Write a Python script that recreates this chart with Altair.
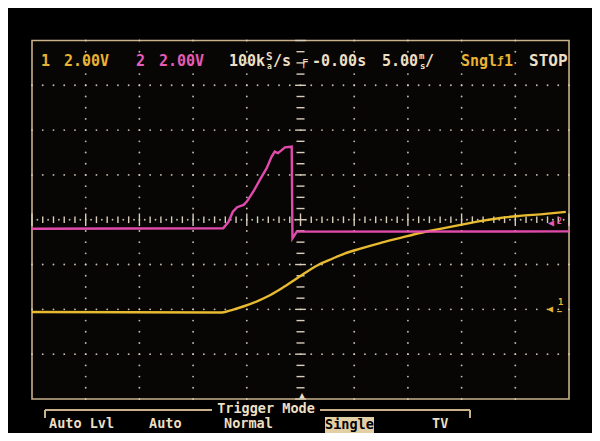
import altair as alt
import pandas as pd
import numpy as np

# ---------------- data ----------------
# Channel 1 (yellow): time in ms, volts (2 V/div, ground at -2 div)
t_ch1 = [-25.0, -7.3, -6.4, -5.2, -4.0, -2.8, -1.7, -0.5, 0.4, 1.6, 3.0, 4.1, 5.5,
         7.4, 9.3, 11.1, 13.0, 14.9, 16.7, 18.6, 20.4, 22.8, 24.7]
v_ch1 = [-0.12, -0.14, -0.03, 0.15, 0.37, 0.64, 0.95, 1.33, 1.62, 1.97, 2.27, 2.49, 2.70,
         2.96, 3.19, 3.41, 3.59, 3.77, 3.94, 4.08, 4.17, 4.26, 4.35]
# Channel 2 (pink): time in ms, volts (2 V/div, ground at centre)
t_ch2 = [-25.0, -7.2, -6.7, -6.3, -5.9, -5.3, -5.0, -4.4, -3.8, -3.15, -2.7, -2.4, -2.1,
         -1.75, -1.45, -0.82, -0.75, -0.35, 25.0]
v_ch2 = [-0.40, -0.38, -0.09, 0.36, 0.56, 0.66, 0.81, 1.25, 1.77, 2.30, 2.81, 3.04, 2.97,
         3.11, 3.23, 3.26, -0.83, -0.53, -0.52]

ch1_label = ["1", "2.00V"]
ch2_label = ["2", "2.00V"]
menu_labels = ["Auto Lvl", "Auto", "Normal", "Single", "TV"]

MS_PER_DIV = 5.0
V_PER_DIV = 2.0
CH1_OFFSET = -2.0
CH2_OFFSET = 0.0

# ---------------- styling ----------------
YEL_T = "#f3c433"
PINK_T = "#ec4fb4"
YEL_TXT = "#e9b232"
PINK_TXT = "#e75ab6"
BEIGE = "#ecdfc3"
BORDER = "#c9b189"
DOT = "#d8cebb"
FONT = "DejaVu Sans Mono"

XD = [-5.447, 5.428]
YD = [-4.759, 4.725]
W, H = 584, 425

def X(f="x"):
    return alt.X(f + ":Q", scale=alt.Scale(domain=XD, nice=False, zero=False), axis=None)

def Y(f="y"):
    return alt.Y(f + ":Q", scale=alt.Scale(domain=YD, nice=False, zero=False), axis=None)

def X2(f="x2"):
    return alt.X2(f)

def Y2(f="y2"):
    return alt.Y2(f)

# traces
ch1 = pd.DataFrame({"x": np.array(t_ch1) / MS_PER_DIV,
                    "y": np.array(v_ch1) / V_PER_DIV + CH1_OFFSET})
ch2 = pd.DataFrame({"x": np.array(t_ch2) / MS_PER_DIV,
                    "y": np.array(v_ch2) / V_PER_DIV + CH2_OFFSET})

# graticule
dots = []
for r in [-3, -2, -1, 1, 2, 3]:
    for k in range(-25, 26):
        dots.append((k * 0.2, r))
for c in [-4, -3, -2, -1, 1, 2, 3, 4]:
    for k in range(-16, 17):
        dots.append((c, k * 0.25))
for k in range(-50, 51):
    if k % 2 != 0:
        dots.append((k * 0.1, 0))
dots_df = pd.DataFrame(dots, columns=["x", "y"])

ticks = []
for k in range(-25, 26):
    h = 0.14 if k % 5 == 0 else 0.075
    ticks.append((k * 0.2, k * 0.2, -h, h))
for k in range(-16, 17):
    w = 0.1 if k % 4 == 0 else 0.075
    ticks.append((-w, w, k * 0.25, k * 0.25))
ticks_df = pd.DataFrame(ticks, columns=["x", "x2", "y", "y2"])

frame_df = pd.DataFrame({"x": [-5], "x2": [5], "y": [-4], "y2": [4]})
one = pd.DataFrame({"a": [0]})

frame = alt.Chart(frame_df).mark_rect(fill="#070605", stroke=BORDER, strokeWidth=1.6).encode(
    x=X(), x2=X2(), y=Y(), y2=Y2())
dot_layer = alt.Chart(dots_df).mark_circle(size=3.5, color=DOT, opacity=0.9).encode(x=X(), y=Y())
tick_layer = alt.Chart(ticks_df).mark_rule(color=DOT, strokeWidth=1.4).encode(
    x=X(), x2=X2(), y=Y(), y2=Y2())

line1 = alt.Chart(ch1).mark_line(color=YEL_T, strokeWidth=2.4, opacity=0.95,
                                 interpolate="monotone").encode(x=X(), y=Y(), order="x:Q")
line2 = alt.Chart(ch2).mark_line(color=PINK_T, strokeWidth=2.4, opacity=0.95).encode(x=X(), y=Y())

def label(text, x, y, color, size=14.5, align="left", weight="bold", baseline="middle"):
    return alt.Chart(one).mark_text(text=text, font=FONT, fontSize=size, fontWeight=weight,
                                     color=color, align=align, baseline=baseline).encode(
        x=alt.value(x - 8), y=alt.value(y - 8))

def rule(x1, y1, x2, y2, color=BORDER, w=2):
    return alt.Chart(one).mark_rule(color=color, strokeWidth=w).encode(
        x=alt.value(x1 - 8), x2=alt.value(x2 - 8), y=alt.value(y1 - 8), y2=alt.value(y2 - 8))

texts = [
    label(ch1_label[0], 41, 61, YEL_TXT, 15),
    label(ch1_label[1], 64, 61, YEL_TXT, 15),
    label(ch2_label[0], 136, 61, PINK_TXT, 15),
    label(ch2_label[1], 159, 61, PINK_TXT, 15),
    label("100k", 229, 61, BEIGE, 15),
    label("S", 266, 57, BEIGE, 11),
    label("a", 267, 67, BEIGE, 8),
    label("/s", 273, 61, BEIGE, 15),
    label("\u2552", 300, 61, BEIGE, 13),
    label("-0.00s", 312, 61, BEIGE, 15),
    label("5.00", 382, 61, BEIGE, 15),
    label("m", 419, 56, BEIGE, 9),
    label("s", 420, 66, BEIGE, 9),
    label("/", 425, 61, BEIGE, 15),
    label("Sngl", 461, 61, YEL_TXT, 15),
    label("\u0192", 497, 61, YEL_TXT, 11),
    label("1", 504, 61, YEL_TXT, 15),
    label("STOP", 529, 61, BEIGE, 16),
    # side markers
    label("\u25c0", 548, 223, PINK_TXT, 10),
    label("2", 557, 222, PINK_TXT, 8),
    label("\u25c0", 547, 309, YEL_TXT, 10),
    label("1", 558, 302, YEL_TXT, 9),
    label("\u2013", 557, 312, YEL_TXT, 8),
    # trigger position marker
    label("\u25b2", 302, 395, BEIGE, 9, align="center"),
    # menu
    label("Trigger Mode", 266, 409, BEIGE, 13.5, align="center"),
    label(menu_labels[0], 49, 424, BEIGE, 13.5),
    label(menu_labels[1], 149, 424, BEIGE, 13.5),
    label(menu_labels[2], 224, 424, BEIGE, 13.5),
    label(menu_labels[4], 432, 424, BEIGE, 13.5),
]

menu_box = alt.Chart(one).mark_rect(color="#e3cfa6").encode(
    x=alt.value(325 - 8), x2=alt.value(374 - 8), y=alt.value(417 - 8), y2=alt.value(433 - 8))
single_txt = label(menu_labels[3], 349.5, 425, "#000000", 13.5, align="center")

bracket = [
    rule(45, 410, 212, 410),
    rule(320, 410, 470, 410),
    rule(45, 410, 45, 418),
    rule(470, 410, 470, 418),
]

chart = alt.layer(frame, dot_layer, tick_layer, line1, line2, *bracket, menu_box, single_txt, *texts).properties(
    width=W, height=H, autosize=alt.AutoSizeParams(type="none"), padding=0,
    background="#000000"
).configure_view(strokeWidth=0)

chart.save("out.html", embed_options={"renderer": "svg", "actions": False})
